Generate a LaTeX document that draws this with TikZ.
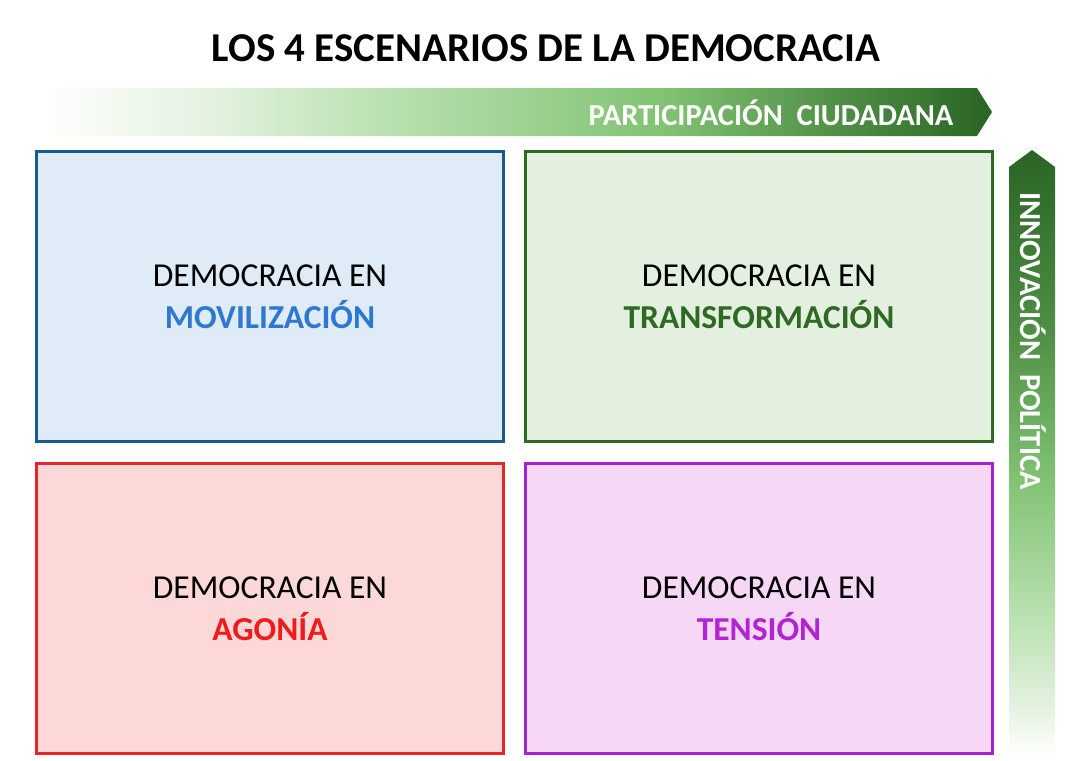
\documentclass[tikz,border=0pt]{standalone}
\usepackage{fontspec}
\setmainfont{Carlito}
\usepackage{xcolor}
\usetikzlibrary{positioning}

\definecolor{movilborde}{HTML}{1B5A8C}
\definecolor{movilfondo}{HTML}{DFECF8}
\definecolor{moviltexto}{HTML}{2E78D2}
\definecolor{transfborde}{HTML}{2F6A24}
\definecolor{transffondo}{HTML}{E4F0DF}
\definecolor{transftexto}{HTML}{2F6A24}
\definecolor{agoniaborde}{HTML}{E8262A}
\definecolor{agoniafondo}{HTML}{FDD8D8}
\definecolor{agoniatexto}{HTML}{EE1C1C}
\definecolor{tensionborde}{HTML}{A820CF}
\definecolor{tensionfondo}{HTML}{F6D8F6}
\definecolor{tensiontexto}{HTML}{B024D4}
\definecolor{verdeA}{HTML}{E3F2DF}
\definecolor{verdeB}{HTML}{B2DDA8}
\definecolor{verdeC}{HTML}{80C272}
\definecolor{verdeD}{HTML}{4E8F45}
\definecolor{verdeE}{HTML}{2A6424}

\pgfdeclarehorizontalshading{partshade}{100bp}{color(0bp)=(white); color(25bp)=(white);
  color(34bp)=(verdeA); color(45bp)=(verdeB); color(58bp)=(verdeC); color(67bp)=(verdeD);
  color(75bp)=(verdeE); color(100bp)=(verdeE)}
\pgfdeclareverticalshading{innoshade}{100bp}{color(0bp)=(white); color(25bp)=(white);
  color(29bp)=(verdeA); color(38bp)=(verdeB); color(48bp)=(verdeC); color(60bp)=(verdeD);
  color(75bp)=(verdeE); color(100bp)=(verdeE)}

\begin{document}
\begin{tikzpicture}[x=1pt, y=-1pt,
    escenario/.style={draw, line width=3pt, minimum width=467pt, minimum height=290pt,
      outer sep=0pt, align=center, font=\fontsize{33.5}{42}\selectfont},
    eje/.style={text=white, font=\bfseries\fontsize{30.5}{32}\selectfont}]
    \useasboundingbox[fill=white] (0,0) rectangle (1067,760);

    % titulo y ejes
    \node[font=\bfseries\fontsize{41}{44}\selectfont] (titulo) at (546,48) {LOS 4 ESCENARIOS DE LA DEMOCRACIA};
    \shade[shading=partshade] (40,88) -- (977,88) -- (992,112) -- (977,136) -- (40,136) -- cycle;
    \node[eje] (participacion) at (771,113) {PARTICIPACIÓN\ \ CIUDADANA};
    \shade[shading=innoshade] (1009,167) -- (1032,150) -- (1055,167) -- (1055,755) -- (1009,755) -- cycle;
    \node[eje, rotate=-90] (innovacion) at (1033,341) {INNOVACIÓN\ \ POLÍTICA};

    % cuadrantes
    \node[escenario, draw=movilborde, fill=movilfondo] (movil) at (270,296.5)
        {DEMOCRACIA EN\\{\bfseries\color{moviltexto}MOVILIZACIÓN}};
    \node[escenario, draw=transfborde, fill=transffondo, right=22pt of movil] (transf)
        {DEMOCRACIA EN\\{\bfseries\color{transftexto}TRANSFORMACIÓN}};
    \node[escenario, draw=agoniaborde, fill=agoniafondo, below=22pt of movil] (agonia)
        {DEMOCRACIA EN\\{\bfseries\color{agoniatexto}AGONÍA}};
    \node[escenario, draw=tensionborde, fill=tensionfondo, right=22pt of agonia] (tension)
        {DEMOCRACIA EN\\{\bfseries\color{tensiontexto}TENSIÓN}};
\end{tikzpicture}
\end{document}
